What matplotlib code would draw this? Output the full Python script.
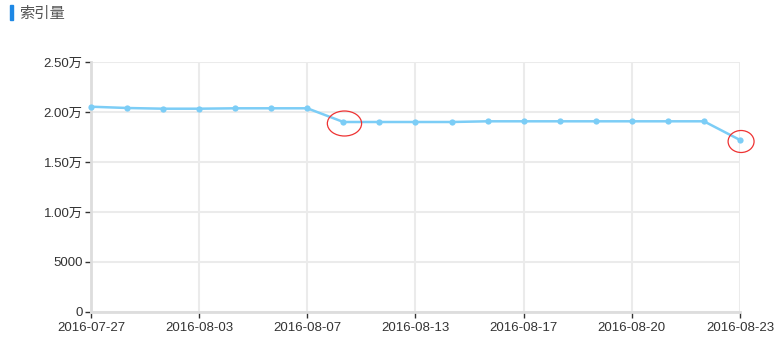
import matplotlib.pyplot as plt
from matplotlib.patches import Ellipse, Rectangle

plt.rcParams['font.family'] = ['Liberation Sans', 'Noto Sans CJK SC']

dates = ['2016-07-27', '2016-07-29', '2016-08-01', '2016-08-03', '2016-08-05',
         '2016-08-06', '2016-08-07', '2016-08-09', '2016-08-11', '2016-08-13',
         '2016-08-15', '2016-08-16', '2016-08-17', '2016-08-18', '2016-08-19',
         '2016-08-20', '2016-08-21', '2016-08-22', '2016-08-23']
index_count = [20530, 20400, 20330, 20330, 20370, 20370, 20370, 19000, 19000, 19000,
               19000, 19070, 19070, 19070, 19070, 19070, 19070, 19070, 17200]
yticks = [0, 5000, 10000, 15000, 20000, 25000]
ylabels = ['0', '5000', '1.00万', '1.50万', '2.00万', '2.50万']
marked = [7, 18]

W, H = 775, 355
fig = plt.figure(figsize=(W / 100, H / 100), dpi=100)
ax = fig.add_axes([91 / W, (H - 312) / H, (740 - 91) / W, 250 / H])

x = list(range(len(dates)))
ax.plot(x, index_count, color='#7ccdf6', lw=1.8, marker='o', ms=4.5,
        markeredgewidth=0, zorder=3, clip_on=False)

ax.set_xlim(0, len(dates) - 1)
ax.set_ylim(0, 25000)
ax.set_yticks(yticks)
ax.set_yticklabels(ylabels)
ax.set_xticks(x[::3])
ax.set_xticklabels(dates[::3])
ax.tick_params(axis='both', colors='#333333', labelsize=9.5, length=4, width=1)
ax.tick_params(axis='x', pad=3)
ax.tick_params(axis='y', pad=2)

ax.grid(True, color='#ebebeb', lw=1.5)
ax.set_axisbelow(True)
for s in ['top', 'right']:
    ax.spines[s].set_visible(False)
for s in ['left', 'bottom']:
    ax.spines[s].set_color('#dddddd')
    ax.spines[s].set_linewidth(2)

# red circles around changes
sizes = {7: (0.95, 2500), 18: (0.72, 2200)}
for i in marked:
    w, h = sizes[i]
    ax.add_patch(Ellipse((i + 0.03, index_count[i] - 150), w, h, fill=False,
                         edgecolor='#e33', lw=0.9, clip_on=False, zorder=4))

# title
fig.patches.append(Rectangle((10 / W, (H - 20) / H), 3 / W, 15 / H,
                             transform=fig.transFigure, color='#1e88e5'))
fig.text(19 / W, (H - 13) / H, '索引量', fontsize=11, color='#555555', va='center',
         family=['Noto Sans CJK SC'])

fig.savefig('out.png', dpi=100)
